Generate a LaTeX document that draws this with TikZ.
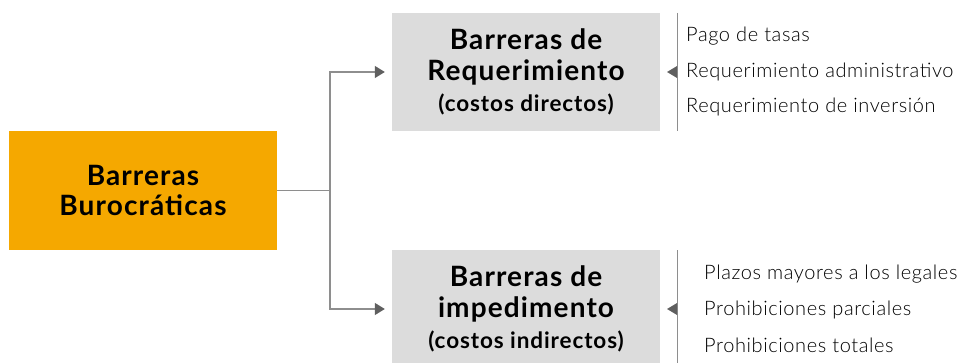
\documentclass[tikz,border=0pt]{standalone}
\usepackage{fontspec}
\setmainfont{Lato}[LetterSpace=4]
\newfontfamily\listfont{Lato Light}[LetterSpace=3]
\usetikzlibrary{arrows.meta,positioning}

\definecolor{burorange}{HTML}{F5A800}
\definecolor{boxgray}{HTML}{DCDCDC}
\definecolor{linegray}{HTML}{8E8E8E}
\definecolor{tipgray}{HTML}{5F5F5F}

\tikzset{
  mainbox/.style={fill=burorange, minimum width=268pt, minimum height=119pt,
    align=center, font=\bfseries\fontsize{28}{30}\selectfont},
  typebox/.style={fill=boxgray, minimum width=268pt, minimum height=118pt,
    align=center, font=\bfseries\fontsize{28}{31}\selectfont},
  item/.style={anchor=west, font=\listfont\fontsize{20}{22}\selectfont, inner sep=0pt},
  link/.style={draw=linegray, line width=1.3pt,
    -{Triangle[length=10pt,width=12pt,color=tipgray]}, shorten >=7pt},
  bracket/.style={draw=linegray, line width=0.9pt}
}

\begin{document}
\begin{tikzpicture}[x=1pt,y=-1pt]
      \useasboundingbox (0,0) rectangle (960,363);

      % Boxes
      \node [mainbox] (buro) at (143,190.5) {Barreras\\Burocráticas};
      \node [typebox] (req) at (526,72)
        {Barreras de\\Requerimiento\\{\fontsize{22.5}{24}\selectfont(costos directos)}};
      \node [typebox] (imp) at (526,309)
        {Barreras de\\impedimento\\{\fontsize{22.5}{24}\selectfont(costos indirectos)}};

      % Connectors
      \draw [draw=linegray, line width=1.3pt] (buro.east) -- (330,190.5) coordinate (split);
      \draw [link] (split) |- (req.west);
      \draw [link] (split) |- (imp.west);

      % Brackets
      \draw [bracket] (677,13) coordinate (reqtop) -- (677,131) coordinate (reqbot);
      \fill [tipgray] (677,66) -- (667,72) -- (677,78) -- cycle;
      \draw [bracket] (677,250) coordinate (imptop) -- (677,370) coordinate (impbot);
      \fill [tipgray] (677,303) -- (667,309) -- (677,315) -- cycle;

      % Items
      \node [item] (pago) at (686,36) {Pago de tasas};
      \node [item] (admin) at (686,71.5) {Requerimiento administrativo};
      \node [item] (inver) at (686,107) {Requerimiento de inversión};
      \node [item] (plazos) at (704,274) {Plazos mayores a los legales};
      \node [item] (parc) at (704,310) {Prohibiciones parciales};
      \node [item] (total) at (704,345.5) {Prohibiciones totales};
    \end{tikzpicture}
\end{document}
